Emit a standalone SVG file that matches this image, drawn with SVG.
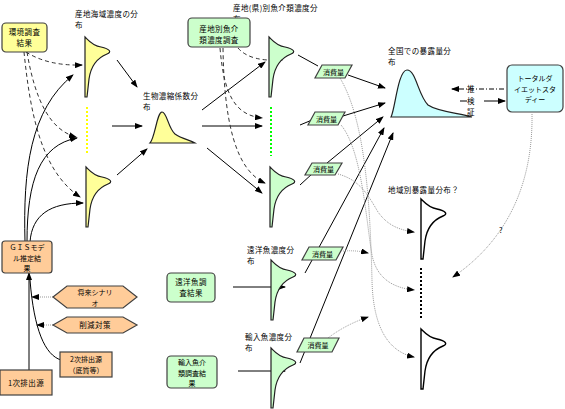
<svg xmlns="http://www.w3.org/2000/svg" xmlns:xlink="http://www.w3.org/1999/xlink" width="565" height="409" viewBox="0 0 565 409">
<style>
text{font-family:"Noto Sans CJK JP","Noto Sans",sans-serif;font-size:7.5px;letter-spacing:0.4px;fill:#000}
.c{text-anchor:middle}
.s{font-size:7px;letter-spacing:0}
.box{stroke:#404040;stroke-width:1.2}
.yl{fill:#FFFF99;stroke:#202020;stroke-width:1.2}
.gr{fill:#CCFFCC;stroke:#202020;stroke-width:1.2}
.cy{fill:#CCFFFF;stroke:#202020;stroke-width:1.2}
.wh{fill:#FFFFFF;stroke:#000;stroke-width:1.4}
.or{fill:#FFCC99}
.ln{fill:none;stroke:#000;stroke-width:1}
.ds{fill:none;stroke:#333;stroke-width:1;stroke-dasharray:4,3}
.dt{fill:none;stroke:#999;stroke-width:1;stroke-dasharray:1,1}
.ar{marker-end:url(#a)}
</style>
<defs>
<marker id="a" markerUnits="userSpaceOnUse" markerWidth="8" markerHeight="6" refX="7" refY="3" orient="auto"><path d="M0,0 L8,3 L0,6 Z" fill="#000"/></marker>
<path id="dist" d="M0,0 C4,4 8,9 16,10 C25,12 27,15 22,17 C12,21 6,28 4,42 L2,60 L0,60 Z"/>
</defs>

<g id="connectors">
<path class="ds ar" d="M26,52 Q48,66 82,65"/>
<path class="ds ar" d="M27,52 C35,100 50,130 76,137"/>
<path class="ds ar" d="M24,52 C30,110 40,170 80,197"/>
<path class="ln ar" d="M25,242 C23,170 30,110 73,75"/>
<path class="ln ar" d="M27,242 C27,180 40,145 77,138"/>
<path class="ln ar" d="M30,242 C32,215 50,203 83,203"/>
<path class="ln ar" d="M117,60 L137,87"/>
<path class="ln ar" d="M112,126 L142,126"/>
<path class="ln ar" d="M117,175 L147,149"/>
<path class="ln ar" d="M202,110 L265,62"/>
<path class="ln ar" d="M202,126 L262,126"/>
<path class="ln ar" d="M207,148 L262,193"/>
<path class="ds ar" d="M238,48 Q250,62 282,60"/>
<path class="ds ar" d="M220,48 C224,95 235,115 262,118"/>
<path class="ds ar" d="M223,48 C224,120 235,170 265,183"/>
<path class="ln" d="M298,55 L318,66"/>
<path class="ln" d="M300,125 L312,120"/>
<path class="ln" d="M300,185 L313,173"/>
<path class="ln ar" d="M348,75 L385,88"/>
<path class="ln ar" d="M343,116 L385,103"/>
<path class="ln ar" d="M327,163 L383,117"/>
<path class="ln ar" d="M305,273 L384,128"/>
<path class="ln ar" d="M300,363 L393,133"/>
<path class="dt ar" d="M340,78 C365,120 370,200 372,280 C373,330 390,352 414,357"/>
<path class="dt ar" d="M341,125 C362,150 366,220 372,255 C377,280 395,288 414,290"/>
<path class="dt ar" d="M338,174 C360,180 368,195 378,212 C388,226 400,230 414,232"/>
<path class="dt ar" d="M343,251 Q356,250 368,253"/>
<path class="dt ar" d="M328,338 Q345,325 368,317"/>
<path class="dt ar" d="M532,114 C533,180 510,238 453,277"/>
<path class="ln ar" d="M504,89 L452,89" style="stroke-dasharray:5,2,1,2"/>
<path class="ln" d="M460,101 L467,101"/>
<path class="ln ar" d="M484,101 L505,101"/>
<path class="ln ar" d="M29,370 L29,273"/>
<path class="ln" d="M61,360 C45,355 34,330 30,280"/>
<path class="dt ar" d="M53,297 L32,297"/>
<path class="dt ar" d="M53,325 L37,325"/>
<path class="ln ar" d="M233,287 L285,287"/>
<path class="ln ar" d="M238,371 L285,371"/>
</g>

<g id="env-survey">
<rect class="box" x="2" y="23" width="45" height="29" rx="4" fill="#FFFF99"/>
<text class="c" x="24.5" y="35">環境調査</text>
<text class="c" x="24.5" y="46">結果</text>
</g>

<g id="sea-dist">
<text x="75" y="17">産地海域濃度の分</text>
<text x="75" y="28">布</text>
<use xlink:href="#dist" x="85" y="37" class="yl"/>
<line x1="87" y1="107" x2="87" y2="155" stroke="#FFFF00" stroke-width="2" stroke-dasharray="2,2"/>
<use xlink:href="#dist" x="86" y="167" class="yl"/>
</g>

<g id="bcf-dist">
<text x="143" y="99">生物濃縮係数分</text>
<text x="143" y="110">布</text>
<path class="yl" d="M150,143 C155,138 157,112 162,112 C167,112 168,128 175,134 C182,139 190,140 195,143 Z"/>
</g>

<g id="fish-dist">
<text x="233" y="11">産地(県)別魚介類濃度分</text>
<text x="233" y="22">布</text>
<use xlink:href="#dist" x="269" y="37" class="gr"/>
<line x1="271" y1="107" x2="271" y2="156" stroke="#00FF00" stroke-width="2" stroke-dasharray="2,2"/>
<use xlink:href="#dist" x="270" y="167" class="gr"/>
</g>

<g id="fish-survey">
<rect class="box" x="188" y="18" width="62" height="29" rx="4" fill="#CCFFCC"/>
<text class="c" x="219" y="32">産地別魚介</text>
<text class="c" x="219" y="43">類濃度調査</text>
</g>

<g id="consumption">
<polygon class="box" fill="#CCFFCC" points="322,65 352,65 345,78 315,78"/>
<text class="c s" x="333.5" y="74.5">消費量</text>
<polygon class="box" fill="#CCFFCC" points="315,112 345,112 338,125 308,125"/>
<text class="c s" x="326.5" y="121.5">消費量</text>
<polygon class="box" fill="#CCFFCC" points="312,163 342,163 335,175 305,175"/>
<text class="c s" x="323.5" y="172">消費量</text>
<polygon class="box" fill="#CCFFCC" points="309,247 343,247 336,260 302,260"/>
<text class="c s" x="322.5" y="256.5">消費量</text>
<polygon class="box" fill="#CCFFCC" points="304,338 339,338 332,352 297,352"/>
<text class="c s" x="318" y="348">消費量</text>
</g>

<g id="national-dist">
<text x="388" y="54">全国での暴露量分</text>
<text x="388" y="65">布</text>
<path class="cy" d="M391,117 C395,110 398,70 407,70 C416,70 418,95 428,105 C438,112 460,113 472,117 Z"/>
</g>

<g id="est-label">
<text class="c" x="471" y="92">推</text>
<text class="c" x="471" y="104">検</text>
<text class="c" x="471" y="115">証</text>
</g>

<g id="tds">
<rect class="box" x="507" y="65" width="56" height="47" rx="5" fill="#CCFFFF"/>
<text class="c s" x="535" y="81">トータルダ</text>
<text class="c s" x="535" y="91.5">イエットスタ</text>
<text class="c s" x="535" y="102">ディー</text>
</g>

<g id="regional-dist">
<text x="388" y="193">地域別暴露量分布？</text>
<use xlink:href="#dist" x="421" y="199" class="wh"/>
<line x1="421" y1="268" x2="421" y2="318" stroke="#000" stroke-width="2" stroke-dasharray="2,2"/>
<use xlink:href="#dist" x="421" y="329" class="wh"/>
<text x="499" y="233">?</text>
</g>

<g id="gis">
<rect class="box or" x="2" y="241" width="50" height="32" rx="3"/>
<text class="c s" x="27" y="250">ＧＩＳモデ</text>
<text class="c s" x="27" y="260.5">ル推定結</text>
<text class="c s" x="27" y="271">果</text>
</g>

<g id="scenario">
<polygon class="box or" points="53,297 67,286 123,286 137,297 123,308 67,308"/>
<text class="c s" x="95" y="295">将来シナリ</text>
<text class="c s" x="95" y="305.5">オ</text>
</g>

<g id="reduction">
<polygon class="box or" points="53,325 67,317 123,317 137,325 123,333 67,333"/>
<text class="c" x="95" y="328">削減対策</text>
</g>

<g id="secondary">
<rect class="box or" x="60" y="352" width="52" height="25"/>
<text class="c s" x="86" y="362">2次排出源</text>
<text class="c s" x="86" y="373">（底質等）</text>
</g>

<g id="primary">
<rect class="box or" x="0" y="370" width="52" height="25"/>
<text class="c" x="26" y="385.5">1次排出源</text>
</g>

<g id="distant-survey">
<rect class="box" x="167" y="273" width="48" height="29" rx="4" fill="#CCFFCC"/>
<text class="c" x="191" y="285">遠洋魚調</text>
<text class="c" x="191" y="296">査結果</text>
</g>

<g id="distant-dist">
<text x="247" y="253">遠洋魚濃度分</text>
<text x="247" y="264">布</text>
<use xlink:href="#dist" x="271" y="260" class="gr"/>
</g>

<g id="import-survey">
<rect class="box" x="167" y="356" width="50" height="32" rx="4" fill="#CCFFCC"/>
<text class="c s" x="192" y="365">輸入魚介</text>
<text class="c s" x="192" y="375.5">類調査結</text>
<text class="c s" x="192" y="386">果</text>
</g>

<g id="import-dist">
<text x="245" y="340">輸入魚濃度分</text>
<text x="245" y="351">布</text>
<use xlink:href="#dist" x="271" y="348" class="gr"/>
</g>
</svg>
